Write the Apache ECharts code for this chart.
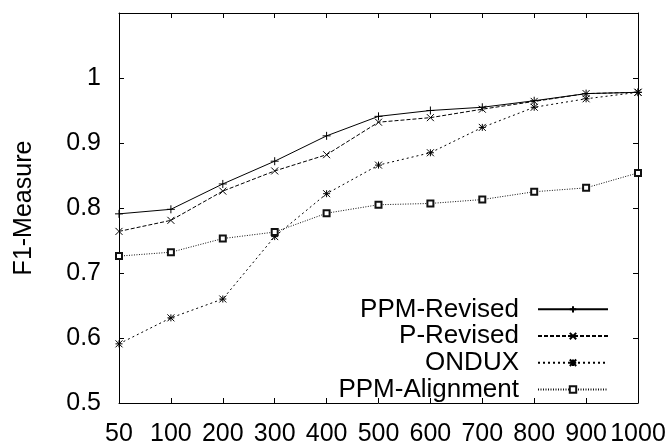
<!DOCTYPE html>
<html>
<head>
<meta charset="utf-8">
<script src="https://cdn.jsdelivr.net/npm/echarts@6/dist/echarts.min.js"></script>
<style>
  html, body { margin: 0; padding: 0; background: #fff; }
  #chart { width: 670px; height: 447px; }
</style>
</head>
<body>
<div id="chart"></div>
<script>
// 数据
const sizes = ['50', '100', '200', '300', '400', '500', '600', '700', '800', '900', '1000'];
const ppmRevised = [0.791, 0.798, 0.837, 0.872, 0.911, 0.941, 0.950, 0.955, 0.965, 0.976, 0.978];
const pRevised = [0.764, 0.781, 0.826, 0.857, 0.882, 0.932, 0.939, 0.952, 0.964, 0.976, 0.978];
const ondux = [0.591, 0.631, 0.660, 0.756, 0.822, 0.866, 0.885, 0.924, 0.955, 0.968, 0.978];
const ppmAlignment = [0.726, 0.732, 0.753, 0.763, 0.792, 0.805, 0.807, 0.813, 0.825, 0.831, 0.854];

const FONT = 'Liberation Sans, Arial, sans-serif';

// 点的形状 (gnuplot 风格)
const SYM_PLUS = 'path://M0,5L10,5M5,0L5,10';
const SYM_CROSS = 'path://M0,0L10,10M10,0L0,10';
const SYM_STAR = 'path://M0,0L10,10M10,0L0,10M0,5L10,5M5,0L5,10';

const chart = echarts.init(document.getElementById('chart'), null, { renderer: 'canvas' });

function makeSeries(name, data, symbol, size, dash, color) {
  return {
    name: name,
    type: 'line',
    data: data,
    symbol: symbol,
    symbolSize: size,
    showAllSymbol: true,
    lineStyle: { color: color, width: 1, type: dash },
    itemStyle: { color: color, borderColor: color, borderWidth: 1 },
    emphasis: { disabled: true },
    animation: false
  };
}

const tickStyle = { show: true, inside: true, length: 5, lineStyle: { color: '#000', width: 1 } };

const option = {
  backgroundColor: '#fff',
  grid: { left: 119, right: 32, top: 13, bottom: 43 },
  legend: {
    orient: 'vertical',
    align: 'right',
    right: 56,
    top: 291,
    itemWidth: 70,
    itemHeight: 8,
    itemGap: 0,
    textStyle: { fontFamily: FONT, fontSize: 26, color: '#000', lineHeight: 26.7, padding: [0, 14, 0, 0] },
    data: ['PPM-Revised', 'P-Revised', 'ONDUX', 'PPM-Alignment']
  },
  xAxis: [{
    type: 'category',
    data: sizes,
    boundaryGap: false,
    axisLine: { lineStyle: { color: '#000', width: 1 } },
    axisTick: tickStyle,
    axisLabel: { fontFamily: FONT, fontSize: 25, color: '#000', margin: 19, interval: 0 },
    splitLine: { show: false }
  }, {
    type: 'category',
    data: sizes,
    position: 'top',
    boundaryGap: false,
    axisLine: { lineStyle: { color: '#000', width: 1 } },
    axisTick: tickStyle,
    axisLabel: { show: false }
  }],
  yAxis: [{
    type: 'value',
    min: 0.5,
    max: 1.1,
    interval: 0.1,
    name: 'F1-Measure',
    nameLocation: 'middle',
    nameGap: 82,
    nameTextStyle: { fontFamily: FONT, fontSize: 25, color: '#000' },
    axisLine: { show: true, lineStyle: { color: '#000', width: 1 } },
    axisTick: tickStyle,
    axisLabel: {
      fontFamily: FONT, fontSize: 25, color: '#000', margin: 18,
      formatter: function (v) { return v > 1.05 ? '' : String(Math.round(v * 10) / 10); }
    },
    splitLine: { show: false }
  }, {
    type: 'value',
    min: 0.5,
    max: 1.1,
    interval: 0.1,
    position: 'right',
    axisLine: { show: true, lineStyle: { color: '#000', width: 1 } },
    axisTick: tickStyle,
    axisLabel: { show: false },
    splitLine: { show: false }
  }],
  series: [
    makeSeries('PPM-Revised', ppmRevised, SYM_PLUS, 8, 'solid', '#000'),
    makeSeries('P-Revised', pRevised, SYM_CROSS, 7, [4, 2], '#000'),
    makeSeries('ONDUX', ondux, SYM_STAR, 7, [2, 3], '#000'),
    makeSeries('PPM-Alignment', ppmAlignment, 'emptyRect', 6, [1, 1.5], '#111')
  ]
};

chart.setOption(option);
</script>
</body>
</html>
